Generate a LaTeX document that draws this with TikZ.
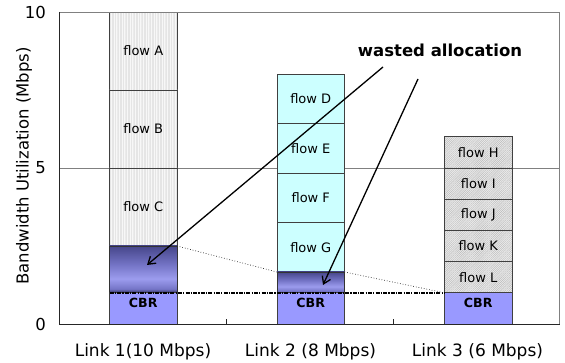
\documentclass[tikz,border=0pt]{standalone}
\usepackage{fontspec}
\setmainfont{DejaVu Sans}
\usetikzlibrary{patterns.meta,arrows.meta}

\definecolor{cbr}{HTML}{9999FF}
\definecolor{aqua}{HTML}{CCFFFF}
\definecolor{edge}{HTML}{404040}
\definecolor{gridgray}{HTML}{808080}
\definecolor{wb}{HTML}{2C2C5A}
\definecolor{wm}{HTML}{7474C6}
\definecolor{wl}{HTML}{9C9CEE}
\definecolor{wt}{HTML}{46468A}
% cylinder-like shading of the unused share of a link
\pgfdeclareverticalshading{wastedshade}{100bp}{%
  color(0bp)=(wb); color(25bp)=(wb); color(29bp)=(wm); color(40bp)=(wl);
  color(55bp)=(wm); color(75bp)=(wt); color(100bp)=(wt)}

\begin{document}
\begin{tikzpicture}[x=1pt,y=-1pt,
  seg/.style={draw=edge, line width=0.7pt, inner sep=0pt, outer sep=0pt,
    minimum width=67.5pt, font=\fontsize{13}{15}\selectfont},
  flowone/.style={seg, preaction={fill=black!3},
    pattern={Lines[angle=90,distance=1.6pt,line width=0.4pt]}, pattern color=black!10},
  flowtwo/.style={seg, fill=aqua},
  flowthree/.style={seg, preaction={fill=black!8},
    pattern={Lines[angle=45,distance=1.5pt,line width=0.4pt]}, pattern color=black!28},
  wasted/.style={seg, draw=black!80, shading=wastedshade},
  cbrbox/.style={seg, fill=cbr, font=\bfseries\fontsize{12.6}{14}\selectfont,
    text height=9.5pt, text depth=12pt},
  ticklbl/.style={anchor=east, font=\fontsize{16.5}{18}\selectfont, inner sep=0pt},
  catlbl/.style={font=\fontsize{17}{19}\selectfont, inner sep=0pt},
  pointer/.style={line width=1.3pt, -{Straight Barb[length=7pt,width=9pt]}},
  ]
\useasboundingbox (0,0) rectangle (565,363);

% gridline at 5 Mbps
\draw[gridgray, line width=0.8pt] (59.5,168) -- (559.5,168);

% Link 1 (10 Mbps)
\node[flowone, minimum height=78pt]   (A)  at (143.25,51)    {flow A};
\node[flowone, minimum height=78pt]   (B)  at (143.25,129)   {flow B};
\node[flowone, minimum height=78pt]   (C)  at (143.25,207)   {flow C};
\node[wasted,  minimum height=46.8pt] (W1) at (143.25,269.4) {};
\node[cbrbox,  minimum height=31.2pt] (C1) at (143.25,308.4) {CBR};

% Link 2 (8 Mbps)
\node[flowtwo, minimum height=49.4pt] (D)  at (310.75,99.1)  {flow D};
\node[flowtwo, minimum height=49.4pt] (E)  at (310.75,148.5) {flow E};
\node[flowtwo, minimum height=49.4pt] (F)  at (310.75,197.9) {flow F};
\node[flowtwo, minimum height=49.4pt] (G)  at (310.75,247.3) {flow G};
\node[wasted,  minimum height=20.8pt] (W2) at (310.75,282.4) {};
\node[cbrbox,  minimum height=31.2pt] (C2) at (310.75,308.4) {CBR};

% Link 3 (6 Mbps)
\node[flowthree, minimum height=31.2pt] (H) at (478.25,152.4) {flow H};
\node[flowthree, minimum height=31.2pt] (I) at (478.25,183.6) {flow I};
\node[flowthree, minimum height=31.2pt] (J) at (478.25,214.8) {flow J};
\node[flowthree, minimum height=31.2pt] (K) at (478.25,246)   {flow K};
\node[flowthree, minimum height=31.2pt] (L) at (478.25,277.2) {flow L};
\node[cbrbox,    minimum height=31.2pt] (C3) at (478.25,308.4) {CBR};

% plot frame
\draw[gridgray, line width=0.8pt] (59.5,12) -- (559.5,12) -- (559.5,324);
\draw[black!85, line width=0.9pt] (59.5,12) -- (59.5,324) -- (559.5,324);
\draw[black!85, line width=0.8pt] (226.5,324) -- (226.5,319) (393,324) -- (393,319);

% axis labels
\node[ticklbl] (y10) at (46,12)  {10};
\node[ticklbl] (y5)  at (46,168) {5};
\node[ticklbl] (y0)  at (46,324) {0};
\node[font=\fontsize{16.5}{18}\selectfont, rotate=90, inner sep=0pt] (ylab) at (24,166)
  {Bandwidth Utilization (Mbps)};
\node[catlbl] (l1) at (143,352) {Link 1(10 Mbps)};
\node[catlbl] (l2) at (310.5,352) {Link 2 (8 Mbps)};
\node[catlbl] (l3) at (477.5,352) {Link 3 (6 Mbps)};

% CBR level and the allocation envelope
\draw[line width=1.5pt, dash pattern=on 4pt off 1.2pt on 1.2pt off 1.2pt] (C1.north west) -- (C3.north west);
\draw[black!85, line width=0.7pt, dotted] (W1.north east) -- (W2.north west);
\draw[black!85, line width=0.7pt, dotted] (W2.north east) -- (C3.north west);

% annotation
\node[font=\bfseries\fontsize{16.5}{18}\selectfont, inner sep=0pt] (note) at (440,50) {wasted allocation};
\coordinate (s1) at (383,67);
\coordinate (s2) at (418,79);
\coordinate (t1) at (147,265);
\coordinate (t2) at (323,285);
\draw[pointer] (s1) -- (t1);
\draw[pointer] (s2) -- (t2);
\end{tikzpicture}
\end{document}
